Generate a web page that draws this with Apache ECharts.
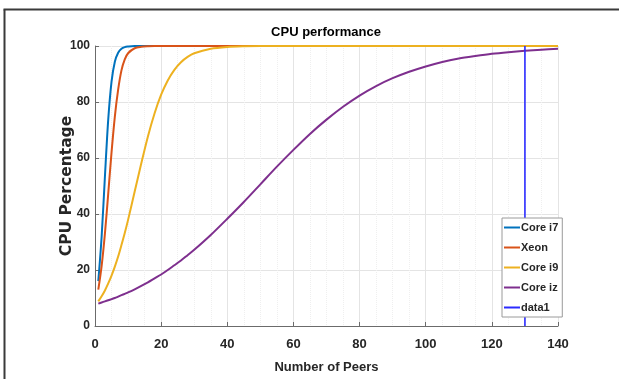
<!DOCTYPE html>
<html>
<head>
<meta charset="utf-8">
<script src="https://cdn.jsdelivr.net/npm/echarts@6/dist/echarts.min.js"></script>
<style>
html,body{margin:0;padding:0;background:#fff;overflow:hidden;}
#chart{width:619px;height:379px;}
</style>
</head>
<body>
<div id="chart"></div>
<script>
// Number of peers (x values)
const peers = [1,2,3,4,5,6,7,8,9,10,12,14,16,18,20,22,24,26,28,30,35,40,45,50,55,60,65,70,75,80,85,90,95,100,105,110,115,120,125,130,135,140];
// CPU percentage series
const coreI7 = [16,31.8,53.4,73.7,87.3,94.4,97.6,99.0,99.6,99.8,100,100,100,100,100,100,100,100,100,100,100,100,100,100,100,100,100,100,100,100,100,100,100,100,100,100,100,100,100,100,100,100];
const xeon   = [13,21.4,33,47.3,62,74.8,84.4,91.3,95.2,97.4,99.2,99.7,99.9,100,100,100,100,100,100,100,100,100,100,100,100,100,100,100,100,100,100,100,100,100,100,100,100,100,100,100,100,100];
const coreI9 = [8.8,10.6,12.7,15.2,18,21.2,24.8,28.9,33.2,37.9,48,58.1,67.7,75.9,82.6,87.7,91.5,94.2,96.1,97.4,99,99.65,99.9,100,100,100,100,100,100,100,100,100,100,100,100,100,100,100,100,100,100,100];
const coreIz = [8.0,8.4,8.8,9.2,9.6,10.0,10.5,11.0,11.5,12.0,13.1,14.3,15.6,17.0,18.4,20.0,21.7,23.4,25.3,27.2,32.5,38.3,44.3,50.6,56.9,62.9,68.6,73.7,78.3,82.3,85.7,88.5,90.8,92.7,94.3,95.5,96.4,97.2,97.8,98.3,98.7,99.0];
// data1: vertical marker line
const data1X = [130,130];
const data1Y = [0,100];

const seriesNames = ['Core i7','Xeon','Core i9','Core iz','data1'];
const colors = ['#0072BD','#D95319','#EDB120','#7E2F8E','#2b2bff'];
const xTicks = {min:0,max:140,interval:20};
const yTicks = {min:0,max:100,interval:20};

const sans = "'Liberation Sans',Arial,sans-serif";
const txt = '#262626';

function pairs(xs, ys){ return xs.map((x,i)=>[x, ys[i]]); }

const curves = [coreI7, xeon, coreI9, coreIz];
const series = curves.map((arr,i)=>({
  name: seriesNames[i], type:'line', data: pairs(peers, arr),
  symbol:'none', smooth:0.3,
  lineStyle:{color:colors[i], width:2}, itemStyle:{color:colors[i]}
}));
series.push({
  name: seriesNames[4], type:'line', data: pairs(data1X, data1Y),
  symbol:'none', lineStyle:{color:colors[4], width:1.6}, itemStyle:{color:colors[4]}
});

const chart = echarts.init(document.getElementById('chart'), null, {renderer:'canvas'});
chart.setOption({
  animation:false,
  backgroundColor:'#fff',
  title:{text:'CPU performance', left:326, top:26, padding:0, textAlign:'center',
    textStyle:{fontFamily:sans, fontWeight:'bold', fontSize:13, color:'#000'}},
  grid:{left:95, right:61, top:46, bottom:53},
  legend:{
    orient:'vertical', left:502, top:218, padding:[4,4,4,2], itemGap:9,
    icon:'rect', itemWidth:16, itemHeight:2, backgroundColor:'#fff', borderColor:'#9a9a9a', borderWidth:1,
    data: seriesNames,
    textStyle:{fontFamily:sans, fontWeight:'bold', fontSize:11, color:txt, padding:[0,0,0,-4]}
  },
  xAxis:{
    type:'value', min:xTicks.min, max:xTicks.max, interval:xTicks.interval,
    name:'Number of Peers', nameLocation:'middle', nameGap:35,
    nameTextStyle:{fontFamily:sans, fontWeight:'bold', fontSize:13, color:txt},
    axisLine:{show:true, onZero:false, lineStyle:{color:'#6b6b6b', width:1}},
    axisTick:{show:true, inside:true, length:4, lineStyle:{color:'#6b6b6b'}},
    axisLabel:{fontFamily:sans, fontWeight:'bold', fontSize:13, color:txt, margin:12},
    splitLine:{show:true, lineStyle:{color:'#e4e4e4', width:1}},
    minorTick:{show:false, splitNumber:4},
    minorSplitLine:{show:true, lineStyle:{color:'#efefef', type:'dotted', width:1}}
  },
  yAxis:{
    type:'value', min:yTicks.min, max:yTicks.max, interval:yTicks.interval,
    name:'CPU Percentage', nameLocation:'middle', nameGap:20, nameRotate:90, nameMoveOverlap:false,
    nameTextStyle:{fontFamily:"'DejaVu Sans',sans-serif", fontWeight:'bold', fontSize:15.5, color:txt},
    axisLine:{show:true, onZero:false, lineStyle:{color:'#6b6b6b', width:1}},
    axisTick:{show:true, inside:true, length:4, lineStyle:{color:'#6b6b6b'}},
    axisLabel:{fontFamily:sans, fontWeight:'bold', fontSize:12, color:txt, margin:5},
    splitLine:{show:true, lineStyle:{color:'#e4e4e4', width:1}}
  },
  graphic:[
    {type:'rect', silent:true, z:200, shape:{x:610, y:0, width:9, height:379}, style:{fill:'#fff'}},
    {type:'line', silent:true, z:300, shape:{x1:3.5, y1:9.5, x2:619, y2:9.5}, style:{stroke:'#3a3a3a', lineWidth:2}},
    {type:'line', silent:true, z:300, shape:{x1:4.5, y1:9.5, x2:4.5, y2:379}, style:{stroke:'#3a3a3a', lineWidth:2}}
  ],
  series: series
});
</script>
</body>
</html>
